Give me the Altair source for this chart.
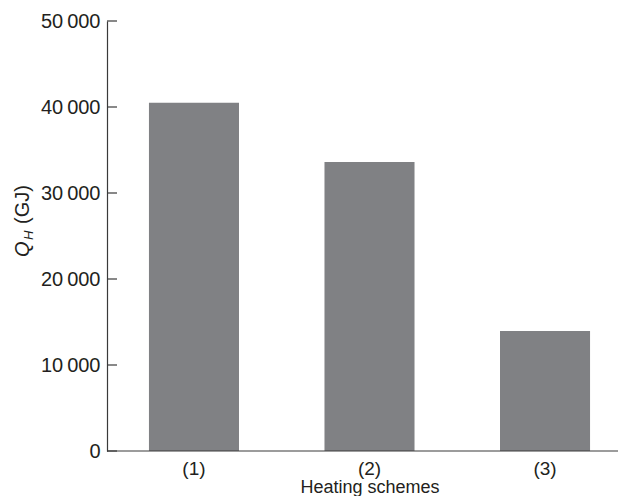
import altair as alt
import pandas as pd

schemes = ["(1)", "(2)", "(3)"]
qh_values = [40500, 33600, 13950]
y_ticks = [0, 10000, 20000, 30000, 40000, 50000]

FONT = "Liberation Sans"
AX = "#3a3a3a"
TXT = "#231f20"
BAR = "#808184"

df = pd.DataFrame({"scheme": schemes, "qh": qh_values})
tick_df = pd.DataFrame({"v": y_ticks})

x_scale = alt.Scale(domain=schemes, range=[0, 525], paddingInner=0.487, paddingOuter=0.239)
y_scale = alt.Scale(domain=[0, 50000], nice=False)

bars = alt.Chart(df).mark_bar(color=BAR).encode(
    x=alt.X("scheme:N", scale=x_scale, sort=schemes,
            axis=alt.Axis(title="Heating schemes", labelAngle=0, ticks=False, domain=False,
                          labelFontSize=19, labelColor=TXT, labelFont=FONT, labelPadding=8,
                          titleFontSize=18, titleFontWeight="normal", titleColor=TXT,
                          titleFont=FONT, titlePadding=0)),
    y=alt.Y("qh:Q", scale=y_scale,
            axis=alt.Axis(title=None, values=y_ticks, ticks=False, grid=False,
                          domainColor=AX, domainWidth=1.2,
                          labelExpr="replace(format(datum.value, ','), ',', '\u2009')",
                          labelFontSize=20, labelColor=TXT, labelFont=FONT, labelPadding=7)),
)

ticks = alt.Chart(tick_df).mark_rule(color=AX, strokeWidth=1.2).encode(
    y=alt.Y("v:Q", scale=y_scale),
    x=alt.value(0), x2=alt.value(10),
)

baseline = alt.Chart(pd.DataFrame({"v": [0]})).mark_rule(color=AX, strokeWidth=1.2).encode(
    y=alt.Y("v:Q", scale=y_scale),
    x=alt.value(0), x2=alt.value(511),
)

def piece(txt, x, y, size, style):
    return alt.Chart(pd.DataFrame({"t": [txt]})).mark_text(
        angle=270, align="left", baseline="alphabetic", font=FONT,
        fontSize=size, fontStyle=style, color=TXT,
    ).encode(text="t:N", x=alt.value(x), y=alt.value(y))

title_q = piece("Q", -78, 236, 20, "italic")
title_h = piece("H", -74, 219, 13, "italic")
title_gj = piece("(GJ)", -78, 203, 20, "normal")

chart = alt.layer(bars, ticks, baseline, title_q, title_h, title_gj).properties(
    width=511, height=430,
    padding={"left": 99, "top": 13, "right": 0, "bottom": 45},
    autosize="none",
).configure(background="white", view=alt.ViewConfig(stroke=None))

chart.save("out.html", embed_options={"renderer": "svg", "actions": False})
